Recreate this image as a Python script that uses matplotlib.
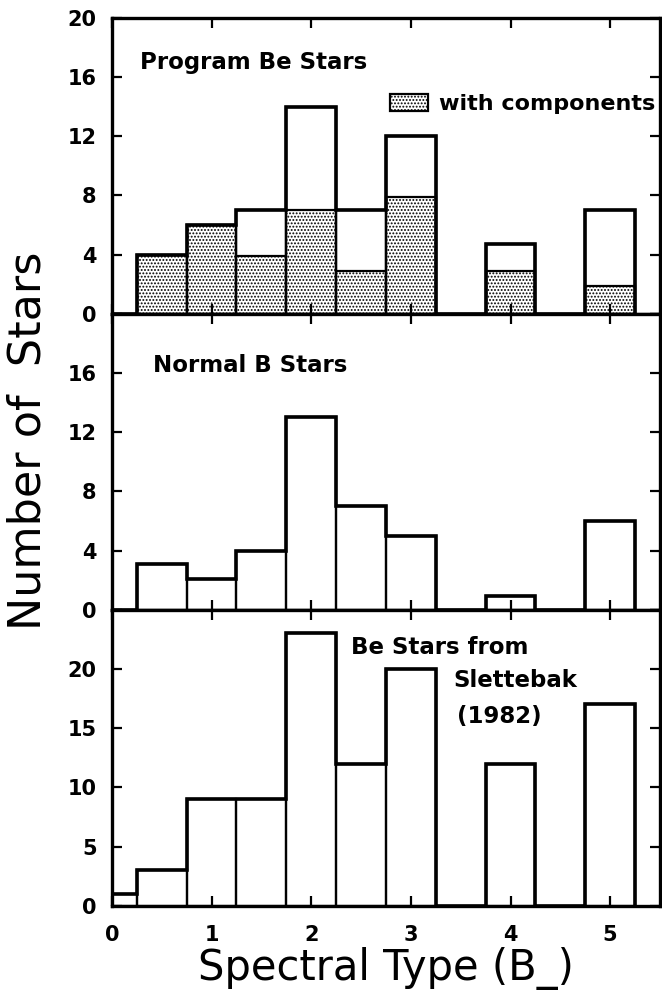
import numpy as np
import matplotlib.pyplot as plt

plt.rcParams['hatch.linewidth'] = 0.9
plt.rcParams['font.family'] = 'DejaVu Sans'

# Bin centres (spectral subtype B0, B0.5, ... B5)
types = [0, 0.5, 1, 1.5, 2, 2.5, 3, 3.5, 4, 4.5, 5]
width = 0.5

# Program Be stars: totals and those with components
program_all = [0, 4, 6, 7, 14, 7, 12, 0, 4.7, 0, 7]
program_comp = [0, 4, 6, 3.9, 7, 2.9, 7.9, 0, 2.9, 0, 1.9]

# Normal B stars
normal_b = [0, 3.1, 2.1, 4, 13, 7, 5, 0, 0.9, 0, 6]

# Be stars from Slettebak (1982)
slettebak = [1, 3, 9, 9, 23, 12, 20, 0, 12, 0, 17]

fig, axs = plt.subplots(3, 1, figsize=(6.62, 9.92), dpi=100, sharex=True)
fig.subplots_adjust(left=0.169, right=0.997, top=0.982, bottom=0.087, hspace=0)

edges = np.append(np.array(types) - width / 2, types[-1] + width / 2)
txt = dict(fontsize=16.5, fontweight='bold', va='center', ha='left')


def draw_hist(ax, vals):
    for x, v in zip(types, vals):
        if v > 0:
            ax.bar(x, v, width=width, facecolor='none', edgecolor='black',
                   linewidth=1.6, zorder=2)
    ax.stairs(vals, edges, baseline=0, fill=False, color='black',
              linewidth=2.6, zorder=3)


# Top: program Be stars
ax = axs[0]
for x, v in zip(types, program_comp):
    if v > 0:
        ax.bar(x, v, width=width, facecolor='white', edgecolor='black',
               hatch='.....', linewidth=1.6, zorder=1)
draw_hist(ax, program_all)
ax.set_ylim(0, 20)
ax.set_yticks([0, 4, 8, 12, 16, 20])
ax.text(0.28, 17, 'Program Be Stars', **txt)
hatch_patch = plt.Rectangle((0, 0), 1, 1, facecolor='white', edgecolor='black',
                            hatch='.....', linewidth=1.6)
ax.legend([hatch_patch], ['with components'], loc='center right',
          bbox_to_anchor=(1.0, 0.71), frameon=False, handlelength=1.7,
          handleheight=0.8, handletextpad=0.5, borderaxespad=0,
          borderpad=0.2, prop={'size': 16, 'weight': 'bold'})

# Middle: normal B stars
ax = axs[1]
draw_hist(ax, normal_b)
ax.set_ylim(0, 20)
ax.set_yticks([0, 4, 8, 12, 16, 20], ['0', '4', '8', '12', '16', ''])
ax.text(0.41, 16.5, 'Normal B Stars', **txt)

# Bottom: Slettebak sample
ax = axs[2]
draw_hist(ax, slettebak)
ax.set_ylim(0, 25)
ax.set_yticks([0, 5, 10, 15, 20, 25], ['0', '5', '10', '15', '20', ''])
ax.text(2.4, 21.8, 'Be Stars from', **txt)
ax.text(3.43, 19.0, 'Slettebak', **txt)
ax.text(3.46, 16.0, '(1982)', **txt)

for ax in axs:
    ax.set_xlim(0, 5.5)
    ax.set_xticks([0, 1, 2, 3, 4, 5])
    ax.tick_params(direction='in', top=True, right=True, length=7, width=1.6,
                   labelsize=15)
    ax.tick_params(axis='y', pad=11)
    ax.tick_params(axis='x', pad=14)
    for lab in ax.get_xticklabels() + ax.get_yticklabels():
        lab.set_fontweight('bold')
    for sp in ax.spines.values():
        sp.set_linewidth(2.4)

axs[2].set_xlabel('Spectral Type (B_)', fontsize=30, labelpad=1)
fig.text(0.042, 0.556, 'Number of  Stars', rotation=90, fontsize=32,
         ha='center', va='center')

fig.savefig('out.png', dpi=100)
